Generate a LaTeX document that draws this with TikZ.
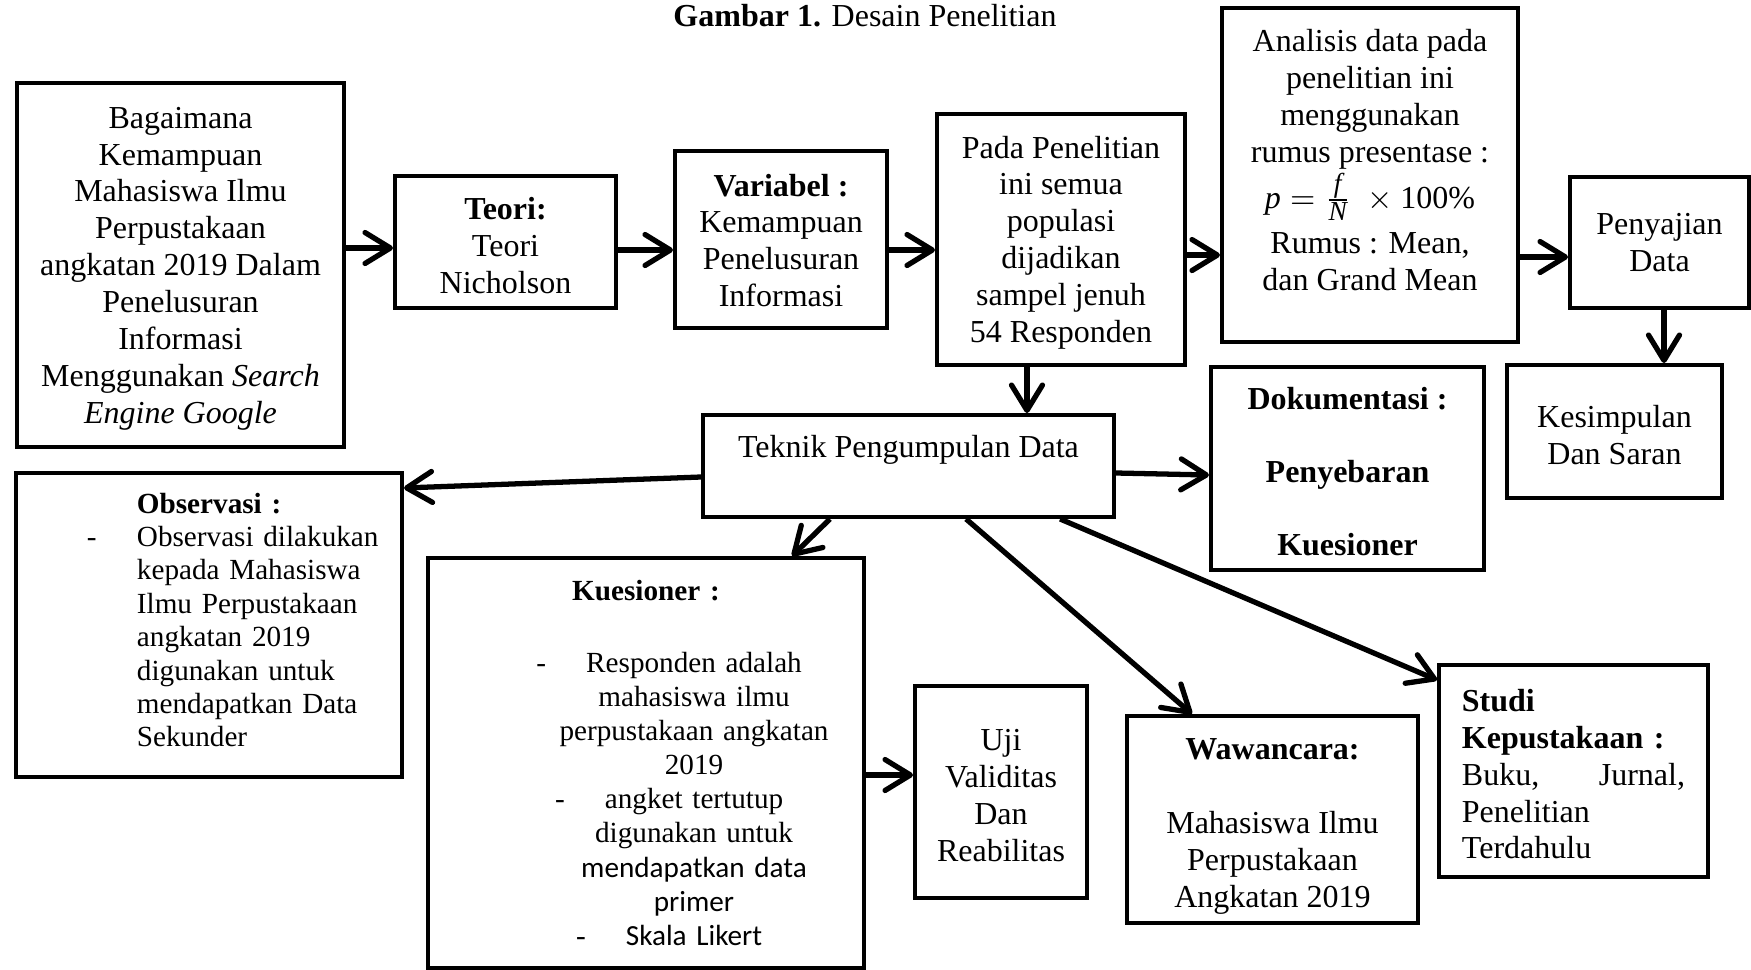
\documentclass[tikz,border=0pt]{standalone}
\usepackage{amsmath}
\usepackage{fontspec}
\setmainfont{Liberation Serif}
\newfontfamily\calibri{Carlito}
\usetikzlibrary{arrows.meta,calc}
\newcommand\firststrut{\rule{0pt}{0.89em}}
\tikzset{
    box/.style={draw, line width=1.1pt, inner sep=0pt, align=center, font=\fontsize{9.1}{10.5}\selectfont},
    smalltext/.style={font=\fontsize{8.3}{9.5}\selectfont},
    flow/.style={line width=1.5pt, -{Straight Barb[length=7.2pt,width=8.8pt,line cap=round,line join=round]}}}

\begin{document}
\begin{tikzpicture}[x=0.01cm,y=-0.01cm]
\useasboundingbox (0,0) rectangle (1751,970);
\node[font=\fontsize{9.1}{10.5}\selectfont] (judul) at (865,16) {\textbf{Gambar 1.} Desain Penelitian};
% baris atas
\node[box, minimum width=3.27cm, minimum height=3.64cm] (rumusan) at (180.5,265) {\firststrut Bagaimana\\Kemampuan\\Mahasiswa Ilmu\\Perpustakaan\\angkatan 2019 Dalam\\Penelusuran\\Informasi\\Menggunakan \textit{Search}\\\textit{Engine Google}};
\node[box, minimum width=2.21cm, minimum height=1.32cm] (teori) at (505.5,242) {\firststrut\textbf{Teori:}\\Teori\\Nicholson};
\node[box, minimum width=2.12cm, minimum height=1.77cm] (variabel) at (781,239.5) {\firststrut\textbf{Variabel :}\\Kemampuan\\Penelusuran\\Informasi\rule[-1.3pt]{0pt}{1.3pt}};
\node[box, minimum width=2.48cm, minimum height=2.51cm] (populasi) at (1061,239.5) {\firststrut Pada Penelitian\\ini semua\\populasi\\dijadikan\\sampel jenuh\\54 Responden};
\node[box, minimum width=2.96cm, minimum height=3.34cm] (analisis) at (1370,175) {\firststrut Analisis data pada\\penelitian ini\\menggunakan\\rumus presentase :\\$\textit{p} = \frac{\text{\fontsize{7.8}{8}\selectfont\itshape f}}{\text{\fontsize{7.8}{8}\selectfont\itshape N}}$\ \ $\times$ 100\%\\[2.3pt]Rumus : Mean,\\dan Grand Mean\rule[-10.4pt]{0pt}{10.4pt}};
\node[box, minimum width=1.79cm, minimum height=1.31cm] (penyajian) at (1659.5,242.5) {\firststrut Penyajian\\Data\rule[-2pt]{0pt}{2pt}};
\node[box, minimum width=2.15cm, minimum height=1.33cm] (simpulan) at (1614.5,431.5) {\firststrut Kesimpulan\\Dan Saran};
% teknik pengumpulan data
\node[box, minimum width=4.11cm, minimum height=1.02cm] (teknik) at (908.5,466) {\firststrut Teknik Pengumpulan Data\rule[-13.2pt]{0pt}{13.2pt}};
\node[box, minimum width=2.73cm, minimum height=2.03cm] (dokumentasi) at (1347.5,468.5) {\firststrut\textbf{Dokumentasi :}\\[10.3pt]\textbf{Penyebaran}\\[10.3pt]\textbf{Kuesioner}};
\node[box, smalltext, text width=3.86cm, align=left, minimum height=3.04cm] (observasi) at (209,625) {%
\hspace*{1.21cm}\firststrut\textbf{Observasi :}\\
\hspace*{0.71cm}\makebox[0.5cm][l]{-}Observasi dilakukan\\
\hspace*{1.21cm}kepada Mahasiswa\\
\hspace*{1.21cm}Ilmu Perpustakaan\\
\hspace*{1.21cm}angkatan 2019\\
\hspace*{1.21cm}digunakan untuk\\
\hspace*{1.21cm}mendapatkan Data\\
\hspace*{1.21cm}Sekunder\rule[-4.55pt]{0pt}{4.55pt}};
\node[box, smalltext, font=\fontsize{8.3}{9.7}\selectfont, text width=4.36cm, minimum height=4.10cm] (kuesioner) at (646,763) {%
\firststrut\textbf{Kuesioner :}\\[10.8pt]
\hspace*{0.96cm}\llap{-\hspace{0.4cm}}Responden adalah\\
\hspace*{0.96cm}mahasiswa ilmu\\
\hspace*{0.96cm}perpustakaan angkatan\\
\hspace*{0.96cm}2019\\
\hspace*{0.96cm}\llap{-\hspace{0.4cm}}angket tertutup\\
\hspace*{0.96cm}digunakan untuk\\
\hspace*{0.96cm}{\calibri mendapatkan data}\\
\hspace*{0.96cm}{\calibri primer}\\
\hspace*{0.96cm}\llap{-\hspace{0.4cm}}{\calibri Skala Likert}\rule[-1.8pt]{0pt}{1.8pt}};
\node[box, minimum width=1.72cm, minimum height=2.12cm] (uji) at (1001,792) {\firststrut Uji\\Validitas\\Dan\\Reabilitas};
\node[box, minimum width=2.91cm, minimum height=2.07cm] (wawancara) at (1272.5,819.5) {\rule{0pt}{1.1em}\textbf{Wawancara:}\\[10.5pt]Mahasiswa Ilmu\\Perpustakaan\\Angkatan 2019};
\node[box, text width=2.23cm, inner xsep=0.23cm, align=left, minimum height=2.12cm] (studi) at (1573.5,771) {\firststrut\textbf{Studi}\\\textbf{Kepustakaan :}\\Buku,\hfill Jurnal,\\Penelitian\\Terdahulu};
% panah
\draw[flow] ([yshift=-0.06cm]teori.west -| rumusan.east) -- ([yshift=-0.06cm]teori.west);
\draw[flow] ([yshift=-0.105cm]variabel.west -| teori.east) -- ([yshift=-0.105cm]variabel.west);
\draw[flow] ([yshift=-0.105cm]populasi.west -| variabel.east) -- ([yshift=-0.105cm]populasi.west);
\draw[flow] ([yshift=-0.80cm]analisis.west -| populasi.east) -- ([yshift=-0.80cm]analisis.west);
\draw[flow] ([yshift=-0.145cm]penyajian.west -| analisis.east) -- ([yshift=-0.145cm]penyajian.west);
\draw[flow] ([xshift=0.045cm]penyajian.south) -- ([xshift=0.045cm]penyajian.south |- simpulan.north);
\draw[flow] ([xshift=-0.34cm]populasi.south) -- ([xshift=-0.34cm]populasi.south |- teknik.north);
\draw[flow] ([yshift=-0.11cm]teknik.west) -- ([yshift=-0.17cm]observasi.north east);
\draw[flow] ([yshift=-0.07cm]teknik.east) -- ([yshift=-0.065cm]dokumentasi.west);
\draw[flow] ([xshift=-0.785cm]teknik.south) -- ([xshift=1.46cm]kuesioner.north);
\draw[flow] ([xshift=0.575cm]teknik.south) -- ([xshift=-0.805cm]wawancara.north);
\draw[flow] ([xshift=1.515cm]teknik.south) -- ([yshift=-0.17cm]studi.north west);
\draw[flow] ([yshift=-0.12cm]kuesioner.east) -- ([yshift=-0.12cm]kuesioner.east -| uji.west);
\end{tikzpicture}
\end{document}
